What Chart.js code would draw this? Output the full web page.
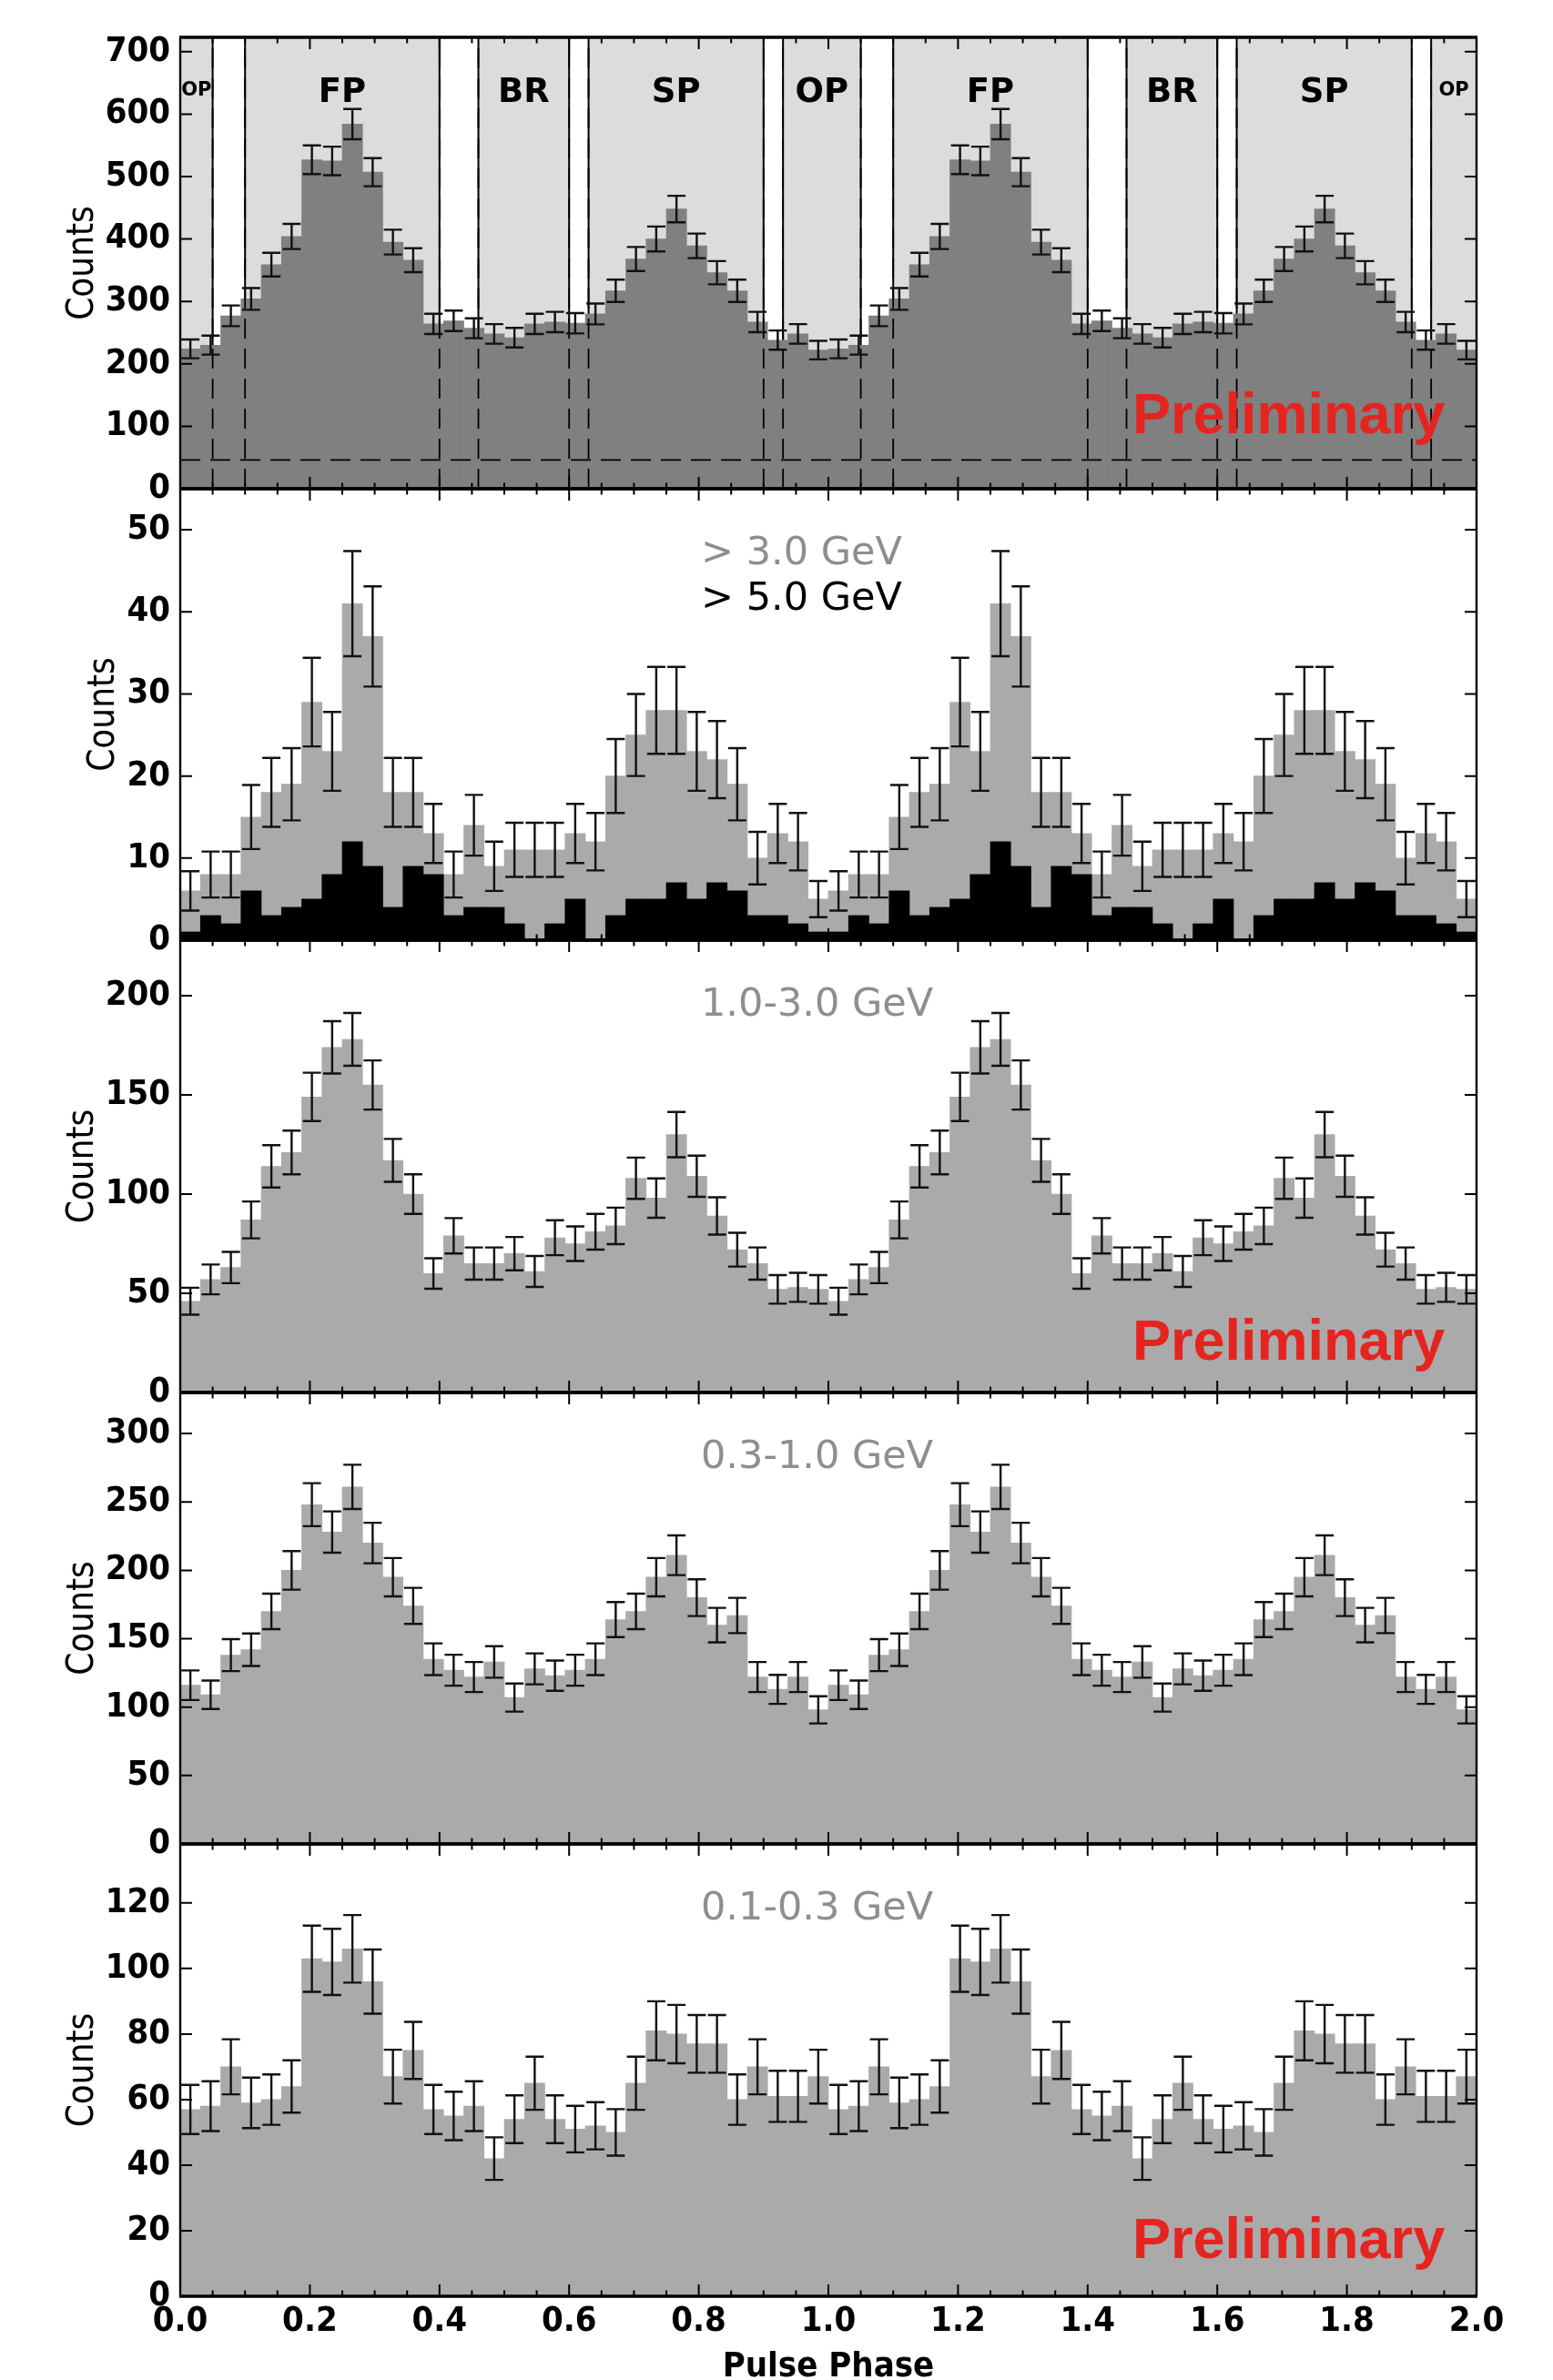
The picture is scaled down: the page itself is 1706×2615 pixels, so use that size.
<!DOCTYPE html>
<html>
<head>
<meta charset="utf-8">
<script src="https://cdn.jsdelivr.net/npm/chart.js@4.4.1/dist/chart.umd.min.js"></script>
<style>
  html, body { margin: 0; padding: 0; background: #fff; }
  #wrap { position: relative; width: 1706px; height: 2615px; overflow: hidden; }
  #wrap canvas { position: absolute; left: 0; }
</style>
</head>
<body>
<div id="wrap"></div>
<script>
// 32 phase bins per pulse cycle, the cycle is shown twice (phase 0 - 2)
const binsPerCycle = 32;
const cycles = 2;

// counts per bin for one cycle
const totalCounts = [224, 230, 277, 304, 359, 404, 527, 525, 584, 507, 395, 366, 264, 269, 257, 248,
                     242, 264, 267, 265, 280, 317, 368, 400, 448, 389, 346, 317, 267, 238, 248, 222];
const totalErr    = [15.0, 15.2, 16.6, 17.4, 18.9, 20.1, 23.0, 22.9, 24.2, 22.5, 19.9, 19.1, 16.2, 16.4, 16.0, 15.7,
                     15.6, 16.2, 16.3, 16.3, 16.7, 17.8, 19.2, 20.0, 21.2, 19.7, 18.6, 17.8, 16.3, 15.4, 15.7, 14.9];

const above3GeV    = [6, 8, 8, 15, 18, 19, 29, 23, 41, 37, 18, 18, 13, 8, 14, 9,
                      11, 11, 11, 13, 12, 20, 25, 28, 28, 23, 22, 19, 10, 13, 12, 5];
const above3GeVErr = [2.4, 2.8, 2.8, 3.9, 4.2, 4.4, 5.4, 4.8, 6.4, 6.1, 4.2, 4.2, 3.6, 2.8, 3.7, 3.0,
                      3.3, 3.3, 3.3, 3.6, 3.5, 4.5, 5.0, 5.3, 5.3, 4.8, 4.7, 4.4, 3.2, 3.6, 3.5, 2.2];
const above5GeV    = [1, 3, 2, 6, 3, 4, 5, 8, 12, 9, 4, 9, 8, 3, 4, 4,
                      2, 0, 2, 5, 0, 3, 5, 5, 7, 5, 7, 6, 3, 3, 2, 1];

const band1to3    = [46, 57, 63, 87, 114, 121, 149, 174, 178, 155, 117, 100, 60, 79, 65, 65,
                     70, 61, 78, 75, 81, 84, 108, 98, 130, 109, 89, 72, 65, 52, 53, 52];
const band1to3Err = [6.8, 7.5, 7.9, 9.3, 10.7, 11.0, 12.2, 13.2, 13.3, 12.4, 10.8, 10.0, 7.7, 8.9, 8.1, 8.1,
                     8.4, 7.8, 8.8, 8.7, 9.0, 9.2, 10.4, 9.9, 11.4, 10.4, 9.4, 8.5, 8.1, 7.2, 7.3, 7.2];

const band03to1    = [116, 109, 138, 142, 170, 200, 248, 228, 261, 220, 195, 174, 135, 127, 122, 133,
                      107, 128, 123, 127, 135, 164, 170, 195, 211, 180, 160, 167, 122, 113, 122, 98];
const band03to1Err = [10.8, 10.4, 11.7, 11.9, 13.0, 14.1, 15.7, 15.1, 16.2, 14.8, 14.0, 13.2, 11.6, 11.3, 11.0, 11.5,
                      10.3, 11.3, 11.1, 11.3, 11.6, 12.8, 13.0, 14.0, 14.5, 13.4, 12.6, 12.9, 11.0, 10.6, 11.0, 9.9];

const band01to03    = [57, 58, 70, 59, 60, 64, 103, 102, 106, 96, 67, 75, 57, 55, 58, 42,
                       54, 65, 54, 51, 52, 50, 65, 81, 80, 77, 77, 60, 70, 61, 61, 67];
const band01to03Err = [7.5, 7.6, 8.4, 7.7, 7.7, 8.0, 10.1, 10.1, 10.3, 9.8, 8.2, 8.7, 7.5, 7.4, 7.6, 6.5,
                       7.3, 8.1, 7.3, 7.1, 7.2, 7.1, 8.1, 9.0, 8.9, 8.8, 8.8, 7.7, 8.4, 7.8, 7.8, 8.2];

// y axis per panel
const yMax  = [723, 55, 228, 330, 138];
const yStep = [100, 10, 50, 50, 20];
const bandText = [null, '> 3.0 GeV', '1.0-3.0 GeV', '0.3-1.0 GeV', '0.1-0.3 GeV'];

// phase intervals of the top panel (one cycle)
const regionName  = ['OP', 'FP', 'BR', 'SP'];
const regionStart = [-0.07, 0.10, 0.46, 0.63];
const regionEnd   = [0.05, 0.40, 0.60, 0.90];
const bgLevel = 46;

// ---- layout (page pixels)
const PAGE_W = 1706, LEFT = 198, RIGHT = 1622;
const panelTop = [41, 537, 1033, 1530, 2026];
const panelH = [496, 496, 497, 496, 497];
const MARGIN = 40, BOTTOM_AXIS_H = 92;
const prelimY = [476, null, 1494, null, 2481];

const CONDENSED = "'DejaVu Sans Condensed', 'DejaVu Sans', sans-serif";
const tickFont = { family: CONDENSED, size: 38, weight: 'bold' };

const phases = [];
for (let i = 0; i < binsPerCycle * cycles; i++) phases.push((i + 0.5) / binsPerCycle);
const twice = a => a.concat(a);

const panels = [
  [{ vals: totalCounts, errs: totalErr, color: '#808080' }],
  [{ vals: above5GeV, errs: null, color: '#000000' },
   { vals: above3GeV, errs: above3GeVErr, color: '#aaaaaa' }],
  [{ vals: band1to3, errs: band1to3Err, color: '#aaaaaa' }],
  [{ vals: band03to1, errs: band03to1Err, color: '#aaaaaa' }],
  [{ vals: band01to03, errs: band01to03Err, color: '#aaaaaa' }]
];

function drawRegions(chart) {
  const { ctx, chartArea: a, scales: { x } } = chart;
  ctx.save();
  for (let c = 0; c <= cycles; c++) {
    for (let r = 0; r < regionName.length; r++) {
      const s = Math.max(0, regionStart[r] + c), e = Math.min(cycles, regionEnd[r] + c);
      if (e <= s) continue;
      const x0 = x.getPixelForValue(s), x1 = x.getPixelForValue(e);
      ctx.fillStyle = '#dcdcdc';
      ctx.fillRect(x0, a.top, x1 - x0, a.bottom - a.top);
      ctx.strokeStyle = '#000';
      ctx.lineWidth = 2;
      ctx.beginPath();
      ctx.moveTo(x0, a.top); ctx.lineTo(x0, a.bottom);
      ctx.moveTo(x1, a.top); ctx.lineTo(x1, a.bottom);
      ctx.stroke();
    }
  }
  ctx.restore();
}

function drawRegionOverlay(chart) {
  const { ctx, chartArea: a, scales: { x, y } } = chart;
  ctx.save();
  ctx.strokeStyle = '#000';
  ctx.lineWidth = 1.8;
  ctx.setLineDash([22, 11]);
  ctx.beginPath();
  for (let c = 0; c <= cycles; c++) {
    for (let r = 0; r < regionName.length; r++) {
      [regionStart[r] + c, regionEnd[r] + c].forEach(v => {
        if (v <= 0 || v >= cycles) return;
        const px = x.getPixelForValue(v);
        ctx.moveTo(px, a.bottom); ctx.lineTo(px, a.top);
      });
    }
  }
  const py = y.getPixelForValue(bgLevel);
  ctx.moveTo(a.left, py); ctx.lineTo(a.right, py);
  ctx.stroke();
  ctx.setLineDash([]);

  ctx.fillStyle = '#000';
  ctx.textAlign = 'center';
  ctx.textBaseline = 'alphabetic';
  for (let c = 0; c <= cycles; c++) {
    for (let r = 0; r < regionName.length; r++) {
      const s = Math.max(0, regionStart[r] + c), e = Math.min(cycles, regionEnd[r] + c);
      if (e <= s) continue;
      const small = (e - s) < 0.1;
      ctx.font = small ? "bold 21px 'DejaVu Sans', sans-serif" : "bold 37px 'DejaVu Sans', sans-serif";
      ctx.fillText(regionName[r], x.getPixelForValue((s + e) / 2), a.top + (small ? 64 : 71));
    }
  }
  ctx.restore();
}

function drawErrorBars(chart) {
  const { ctx, scales: { x, y } } = chart;
  ctx.save();
  ctx.strokeStyle = '#111';
  ctx.lineWidth = 2.4;
  chart.data.datasets.forEach(ds => {
    if (!ds.errors) return;
    ds.data.forEach((p, i) => {
      const e = ds.errors[i];
      const px = x.getPixelForValue(p.x);
      const yt = y.getPixelForValue(p.y + e), yb = y.getPixelForValue(p.y - e);
      ctx.beginPath();
      ctx.moveTo(px, yt); ctx.lineTo(px, yb);
      ctx.moveTo(px - 10, yt); ctx.lineTo(px + 10, yt);
      ctx.moveTo(px - 10, yb); ctx.lineTo(px + 10, yb);
      ctx.stroke();
    });
  });
  ctx.restore();
}

function drawFrame(chart) {
  const { ctx, chartArea: a, scales: { x, y } } = chart;
  ctx.save();
  ctx.strokeStyle = '#000';
  ctx.lineWidth = 2;
  ctx.beginPath();
  for (let i = 0; i <= 40; i++) {
    const px = x.getPixelForValue(i * 0.05);
    const len = i % 4 === 0 ? 13 : 6.5;
    ctx.moveTo(px, a.bottom); ctx.lineTo(px, a.bottom - len);
    ctx.moveTo(px, a.top); ctx.lineTo(px, a.top + len);
  }
  y.ticks.forEach(t => {
    const py = y.getPixelForValue(t.value);
    ctx.moveTo(a.left, py); ctx.lineTo(a.left + 13, py);
    ctx.moveTo(a.right, py); ctx.lineTo(a.right - 13, py);
  });
  ctx.stroke();
  // sides thinner than top/bottom, where neighbouring panels share the edge
  ctx.lineWidth = 2.4;
  ctx.beginPath();
  ctx.moveTo(a.left, a.top); ctx.lineTo(a.left, a.bottom);
  ctx.moveTo(a.right, a.top); ctx.lineTo(a.right, a.bottom);
  ctx.stroke();
  ctx.lineWidth = 3.6;
  ctx.beginPath();
  ctx.moveTo(a.left - 1, a.top); ctx.lineTo(a.right + 1, a.top);
  ctx.moveTo(a.left - 1, a.bottom); ctx.lineTo(a.right + 1, a.bottom);
  ctx.stroke();
  ctx.restore();
}

function drawTexts(chart, k) {
  const { ctx, chartArea: a, scales: { y } } = chart;
  const toCanvasY = v => v - panelTop[k] + MARGIN;
  ctx.save();
  ctx.textAlign = 'left';
  ctx.textBaseline = 'alphabetic';
  if (bandText[k]) {
    ctx.font = "43px 'DejaVu Sans', sans-serif";
    ctx.fillStyle = '#8e8e8e';
    ctx.fillText(bandText[k], 770, a.top + 83);
    if (k === 1) {
      ctx.fillStyle = '#000';
      ctx.fillText('> 5.0 GeV', 770, a.top + 133);
    }
  }
  if (prelimY[k]) {
    ctx.font = "bold 63px 'Liberation Sans', Arial, sans-serif";
    ctx.fillStyle = '#e52420';
    ctx.fillText('Preliminary', 1244, toCanvasY(prelimY[k]));
  }
  // y title, placed left of the widest tick label
  ctx.font = `bold ${tickFont.size}px ${CONDENSED}`;
  let maxW = 0;
  y.ticks.forEach(t => { maxW = Math.max(maxW, ctx.measureText(t.label).width); });
  const xTitle = a.left - 11 - maxW - 14;
  ctx.font = `40px ${CONDENSED}`;
  ctx.fillStyle = '#000';
  ctx.translate(xTitle, (a.top + a.bottom) / 2);
  ctx.rotate(-Math.PI / 2);
  ctx.textAlign = 'center';
  ctx.fillText('Counts', 0, 0);
  ctx.setTransform(1, 0, 0, 1, 0, 0);
  if (k === panels.length - 1) {
    ctx.font = `bold 38px ${CONDENSED}`;
    ctx.textAlign = 'center';
    ctx.fillText('Pulse Phase', (a.left + a.right) / 2, toCanvasY(2611));
  }
  ctx.restore();
}

const wrap = document.getElementById('wrap');

panels.forEach((series, k) => {
  const last = k === panels.length - 1;
  const h = panelH[k] + MARGIN + (last ? BOTTOM_AXIS_H : MARGIN);
  const cv = document.createElement('canvas');
  cv.width = PAGE_W; cv.height = h;
  cv.style.width = PAGE_W + 'px'; cv.style.height = h + 'px';
  cv.style.top = (panelTop[k] - MARGIN) + 'px';
  wrap.appendChild(cv);

  new Chart(cv, {
    type: 'bar',
    data: {
      datasets: series.map(s => ({
        data: phases.map((p, i) => ({ x: p, y: twice(s.vals)[i] })),
        errors: s.errs ? twice(s.errs) : null,
        backgroundColor: s.color,
        borderWidth: 0,
        grouped: false,
        barPercentage: 1,
        categoryPercentage: 1
      }))
    },
    options: {
      responsive: false,
      animation: false,
      devicePixelRatio: 1,
      layout: { padding: { left: 0, right: PAGE_W - RIGHT, top: MARGIN, bottom: last ? 0 : MARGIN } },
      plugins: { legend: { display: false }, tooltip: { enabled: false } },
      scales: {
        x: {
          type: 'linear', min: 0, max: cycles, offset: false,
          grid: { display: false, drawTicks: false },
          border: { display: false },
          ticks: {
            display: last, stepSize: 0.2, autoSkip: false, maxRotation: 0,
            padding: 5, color: '#000', font: tickFont,
            callback: v => v.toFixed(1)
          },
          afterFit: s => { s.height = last ? BOTTOM_AXIS_H : 0; }
        },
        y: {
          min: 0, max: yMax[k],
          grid: { display: false, drawTicks: false },
          border: { display: false },
          ticks: { stepSize: yStep[k], includeBounds: false, autoSkip: false, padding: 11, color: '#000', font: tickFont },
          afterFit: s => { s.width = LEFT; }
        }
      }
    },
    plugins: [{
      id: 'panelDecor' + k,
      beforeDatasetsDraw(chart) { if (k === 0) drawRegions(chart); },
      afterDatasetsDraw(chart) {
        if (k === 0) drawRegionOverlay(chart);
        drawErrorBars(chart);
        drawFrame(chart);
      },
      afterDraw(chart) { drawTexts(chart, k); }
    }]
  });
});
</script>
</body>
</html>
